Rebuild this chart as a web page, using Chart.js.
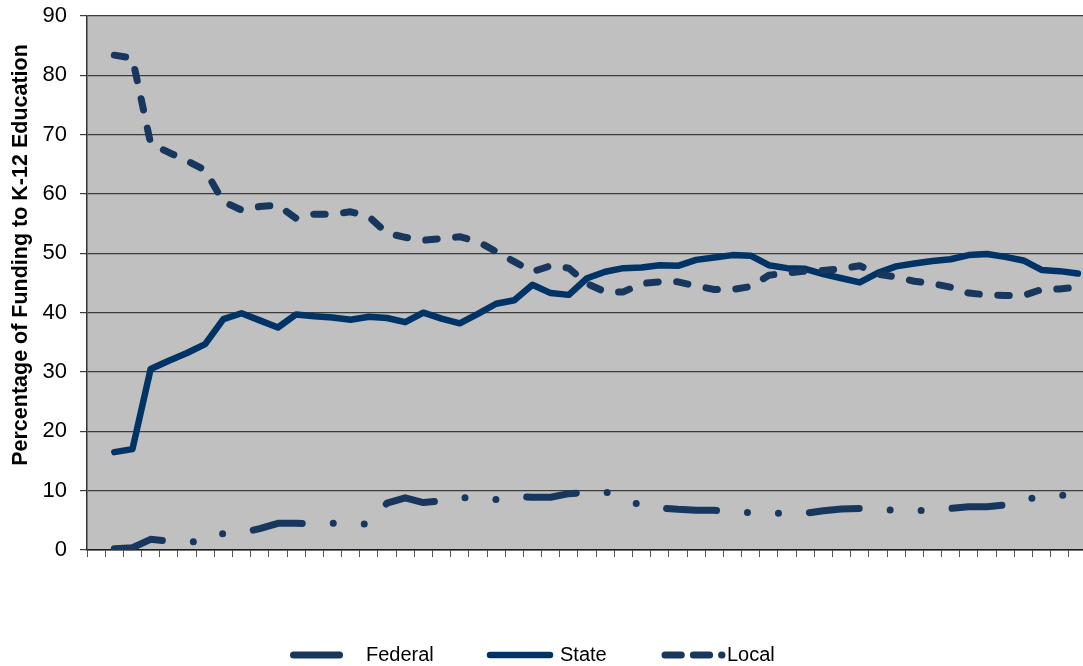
<!DOCTYPE html>
<html>
<head>
<meta charset="utf-8">
<title>Funding to K-12 Education by Source</title>
<script src="https://cdn.jsdelivr.net/npm/chart.js@4"></script>
<style>
  html, body { margin: 0; padding: 0; background: #ffffff; overflow: hidden; }
  #wrap { width: 1087px; height: 666px; }
</style>
</head>
<body>
<div id="wrap"><canvas id="chart" width="1087" height="666"></canvas></div>
<script>
// Category slots along the x axis (the axis carries no printed labels)
const categories = Array.from({ length: 55 }, () => '');

// Share of K-12 funding by source, percent
const federal = [null,
  0.2, 0.4, 1.8, 1.5, 1.4, 1.4, 2.8, 2.9, 3.6, 4.5,
  4.5, 4.4, 4.5, 4.4, 4.4, 7.9, 8.8, 8.0, 8.3, 8.9,
  8.6, 8.5, 9.0, 8.9, 8.9, 9.5, 9.7, 9.8, 8.7, 7.5,
  7.1, 6.85, 6.7, 6.7, 6.4, 6.3, 6.2, 6.2, 6.2, 6.6,
  6.9, 7.0, 6.8, 6.7, 6.6, 6.8, 7.0, 7.3, 7.3, 7.6,
  8.6, 8.9, 9.2, 9.3];

const state = [null,
  16.5, 17.0, 30.5, 31.9, 33.2, 34.7, 38.9, 39.9, 38.7, 37.5,
  39.7, 39.4, 39.2, 38.8, 39.3, 39.1, 38.4, 40.0, 39.0, 38.2,
  39.8, 41.5, 42.1, 44.7, 43.3, 43.0, 45.8, 46.9, 47.5, 47.6,
  48.0, 47.9, 48.9, 49.3, 49.7, 49.6, 48.0, 47.5, 47.4, 46.5,
  45.8, 45.1, 46.7, 47.8, 48.3, 48.7, 49.0, 49.7, 49.9, 49.4,
  48.8, 47.2, 47.0, 46.6];

const local = [null,
  83.4, 82.9, 68.5, 67.0, 65.6, 64.0, 58.7, 57.3, 57.9, 58.1,
  55.9, 56.6, 56.6, 57.0, 56.2, 53.4, 52.7, 52.2, 52.5, 52.8,
  52.0, 50.3, 48.6, 46.9, 47.9, 47.5, 44.9, 43.5, 43.5, 44.9,
  45.2, 45.2, 44.5, 43.9, 43.9, 44.4, 46.3, 46.7, 47.0, 47.1,
  47.4, 47.9, 46.5, 46.0, 45.3, 44.9, 44.3, 43.3, 43.0, 42.9,
  42.9, 43.9, 44.0, 44.3];

// Y axis ticks
const yTicks = [0, 10, 20, 30, 40, 50, 60, 70, 80, 90];
const yAxisTitle = 'Percentage of Funding to K-12 Education';

const FONT = "'Liberation Sans', Arial, Helvetica, sans-serif";

// Grey plot background
const plotBackground = {
  id: 'plotBackground',
  beforeDraw(chart) {
    const { ctx, chartArea: a } = chart;
    ctx.save();
    ctx.fillStyle = '#c0c0c0';
    ctx.fillRect(a.left, a.top, a.right - a.left, a.bottom - a.top);
    ctx.restore();
  }
};

// Rotated y axis title (baseline on the right-hand side of the glyphs)
const yTitle = {
  id: 'yTitle',
  afterDraw(chart, args, opts) {
    const { ctx } = chart;
    ctx.save();
    ctx.translate(opts.x, opts.y);
    ctx.rotate(-Math.PI / 2);
    ctx.font = 'bold ' + opts.size + 'px ' + FONT;
    ctx.fillStyle = '#000';
    ctx.textAlign = 'center';
    ctx.textBaseline = 'alphabetic';
    ctx.fillText(opts.text, 0, 0);
    ctx.restore();
  }
};

// Legend row below the plot: line sample followed by the series name
const lineLegend = {
  id: 'lineLegend',
  afterDraw(chart, args, opts) {
    const { ctx } = chart;
    chart.data.datasets.forEach((ds, i) => {
      const it = opts.items[i];
      ctx.save();
      ctx.strokeStyle = ds.borderColor;
      ctx.lineWidth = ds.borderWidth;
      ctx.lineCap = 'round';
      ctx.setLineDash(it.dash || []);
      ctx.beginPath();
      ctx.moveTo(it.x0, opts.y);
      ctx.lineTo(it.x1, opts.y);
      ctx.stroke();
      ctx.setLineDash([]);
      ctx.font = opts.size + 'px ' + FONT;
      ctx.fillStyle = '#000';
      ctx.textAlign = 'left';
      ctx.textBaseline = 'middle';
      ctx.fillText(ds.label, it.tx, opts.y);
      ctx.restore();
    });
  }
};

new Chart(document.getElementById('chart'), {
  type: 'line',
  data: {
    labels: categories,
    datasets: [
      {
        label: 'Federal',
        data: federal,
        borderColor: '#17375e',
        borderWidth: 7,
        borderDash: [50, 31, 0, 31, 0, 31],
        borderCapStyle: 'round',
        borderJoinStyle: 'round',
        order: 2
      },
      {
        label: 'State',
        data: state,
        borderColor: '#003366',
        borderWidth: 6.5,
        borderCapStyle: 'round',
        borderJoinStyle: 'round',
        order: 1
      },
      {
        label: 'Local',
        data: local,
        borderColor: '#17375e',
        borderWidth: 7,
        borderDash: [11.5, 18.5],
        borderCapStyle: 'round',
        borderJoinStyle: 'round',
        order: 0
      }
    ]
  },
  options: {
    responsive: false,
    animation: false,
    devicePixelRatio: 1,
    layout: { padding: { top: 16, right: 0, bottom: 0, left: 0 } },
    elements: { point: { radius: 0, hoverRadius: 0 }, line: { tension: 0 } },
    plugins: {
      legend: { display: false },
      tooltip: { enabled: false },
      yTitle: { text: yAxisTitle, x: 27, y: 255, size: 21.5 },
      lineLegend: {
        y: 655,
        size: 20,
        items: [
          { x0: 293.5, x1: 339.5, tx: 366 },
          { x0: 490, x1: 550, tx: 560 },
          { x0: 665, x1: 722, tx: 727, dash: [16.3, 12] }
        ]
      }
    },
    scales: {
      x: {
        type: 'category',
        offset: true,
        grid: {
          offset: true,
          drawOnChartArea: false,
          drawTicks: true,
          tickLength: 7,
          color: '#555555',
          lineWidth: 1
        },
        border: { display: true, color: '#1a1a1a', width: 1.5 },
        ticks: { display: false },
        afterFit(scale) { scale.height = 116; }
      },
      y: {
        min: 0,
        max: 90,
        afterBuildTicks(scale) { scale.ticks = yTicks.map(v => ({ value: v })); },
        grid: {
          color: '#3c3c3c',
          lineWidth: 1.2,
          drawTicks: true,
          tickLength: 7
        },
        border: { display: true, color: '#333333', width: 1.5 },
        ticks: {
          padding: 13,
          color: '#000',
          font: { family: FONT, size: 22 }
        },
        afterFit(scale) {
          scale.width = 87;
          scale.paddingTop = 0;
          scale.paddingBottom = 0;
        }
      }
    }
  },
  plugins: [plotBackground, yTitle, lineLegend]
});
</script>
</body>
</html>
